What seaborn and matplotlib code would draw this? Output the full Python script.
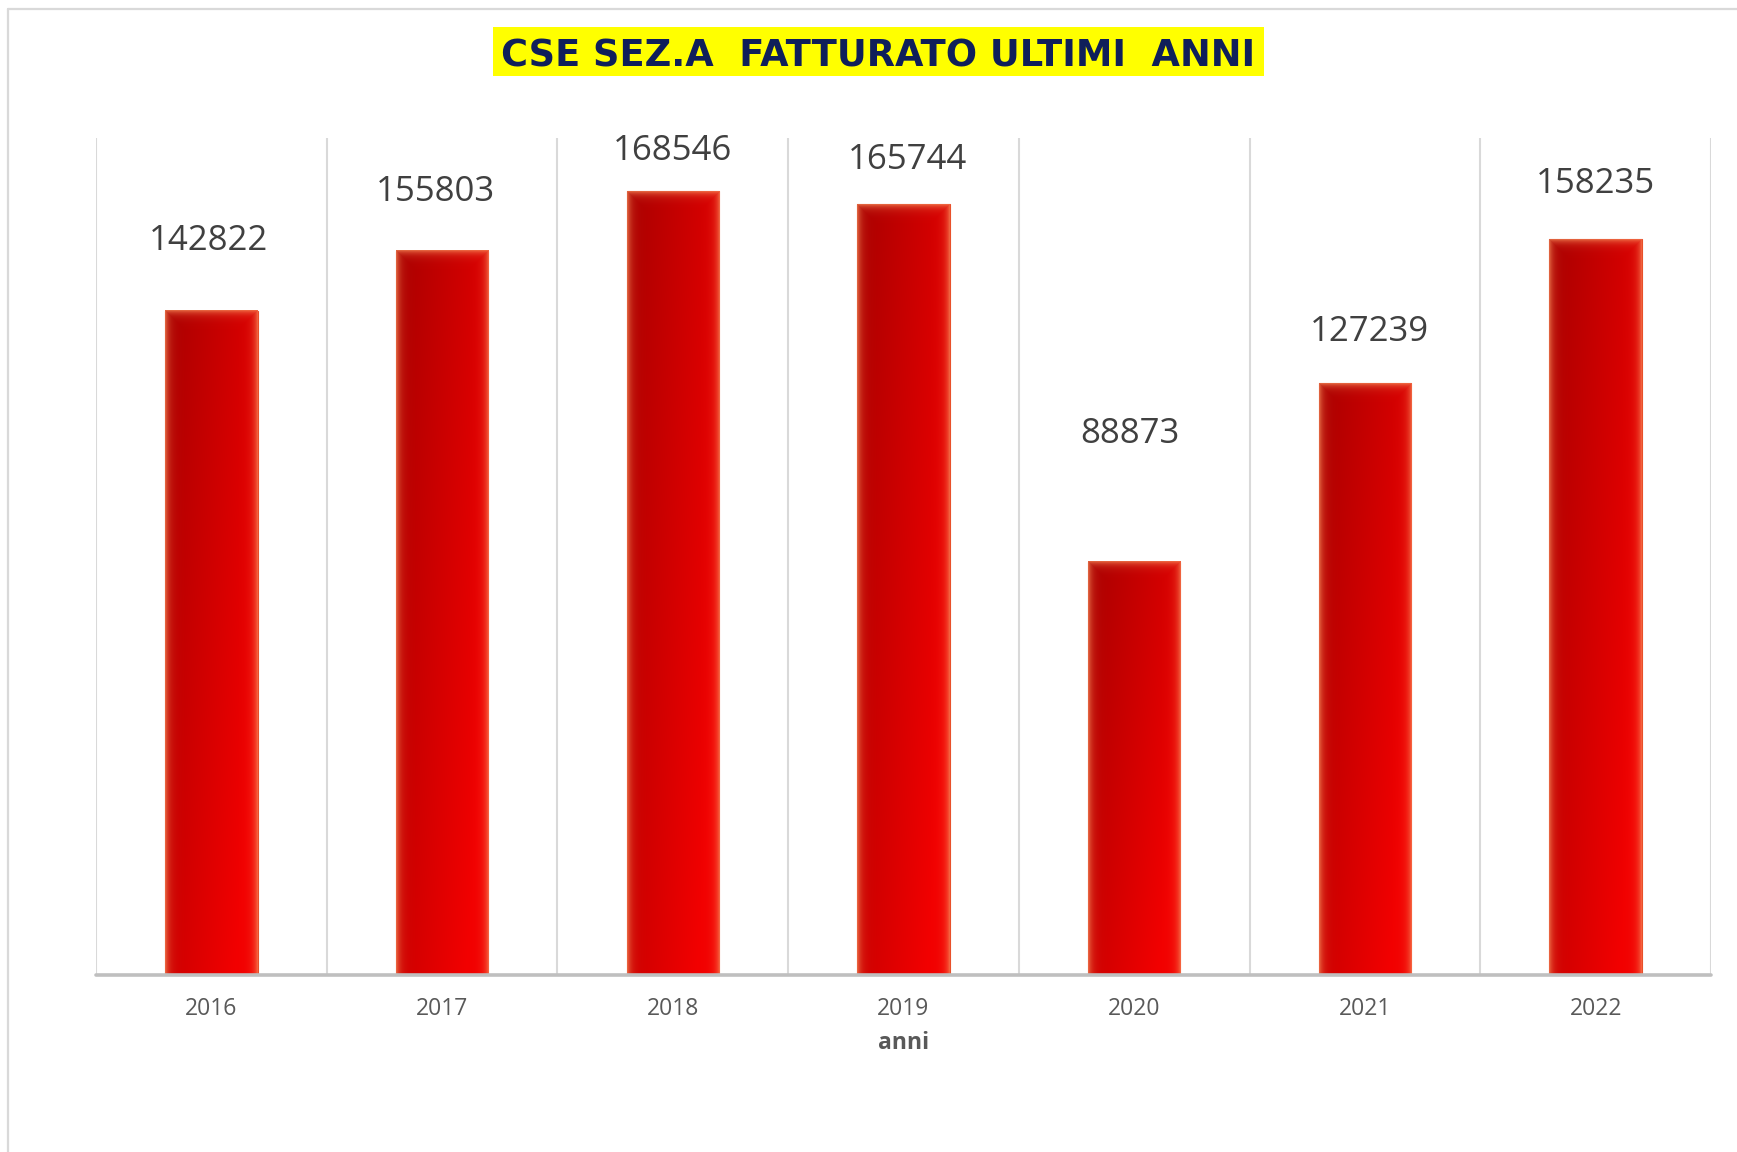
import numpy as np
import pandas as pd
import matplotlib
matplotlib.use("Agg")
import matplotlib.pyplot as plt
from matplotlib.lines import Line2D
from matplotlib.patches import Rectangle
import seaborn as sns

# ── Dati ────────────────────────────────────────────────
anni = ["2016", "2017", "2018", "2019", "2020", "2021", "2022"]
fatturato = [142822, 155803, 168546, 165744, 88873, 127239, 158235]
titolo = "CSE SEZ.A  FATTURATO ULTIMI  ANNI"
asse_x = "anni"

# spostamento delle etichette (pixel) rispetto alla cima della barra
label_dx = [-3, -7, 0, 4, -4, 4, 0]
label_dy = [70, 59, 40, 44, 128, 51, 55]

df = pd.DataFrame({"anno": anni, "valore": fatturato})

sns.set_theme(style="white")
plt.rcParams["font.family"] = ["Open Sans", "DejaVu Sans"]

W, H = 1737, 1152
fig = plt.figure(figsize=(W / 100, H / 100), dpi=100)
ax = fig.add_axes([96 / W, 1 - 975 / H, (1711 - 96) / W, (975 - 138) / H])

sns.barplot(data=df, x="anno", y="valore", width=0.4, color="#d00000",
            edgecolor="#e8502a", linewidth=0.8, ax=ax, zorder=2)

YMAX = 180000
ax.set_xlim(-0.5, len(anni) - 0.5)
ax.set_ylim(0, YMAX)

# gradiente rosso sulle barre (scuro in alto a sinistra, chiaro in basso a destra)
for p in ax.patches:
    x0, w, h = p.get_x(), p.get_width(), p.get_height()
    cols = 93
    rows = max(int(h / YMAX * 837), 10)
    t = np.linspace(0, 1, cols)[None, :]
    s = np.linspace(0, 1, rows)[:, None]
    r = np.clip(0.66 + 0.20 * t + 0.14 * s, 0, 0.95)
    img = np.zeros((rows, cols, 3))
    img[..., 0] = r
    # alone arancio sui bordi
    xi = np.arange(cols)[None, :]
    yi = np.arange(rows)[:, None]
    d = np.minimum(np.minimum(xi, cols - 1 - xi), yi).astype(float)
    glow = 0.7 * np.exp(-d / 4.0)
    orange = np.array([0.97, 0.55, 0.35])
    img = img * (1 - glow[..., None]) + orange * glow[..., None]
    ax.imshow(img, extent=(x0, x0 + w, 0, h), aspect="auto",
              interpolation="bilinear", zorder=3)

ax.set_xlim(-0.5, len(anni) - 0.5)
ax.set_ylim(0, YMAX)

# griglia verticale tra le categorie
for xv in np.arange(-0.5, len(anni), 1.0):
    ax.axvline(xv, color="#d9d9d9", lw=1.5, zorder=1)
ax.axhline(0, color="#bfbfbf", lw=2.6, zorder=4, clip_on=False)

for sp in ax.spines.values():
    sp.set_visible(False)
ax.set_yticks([])
ax.set_ylabel("")
ax.tick_params(axis="x", length=0, pad=16, labelsize=16.5, labelcolor="#595959")
ax.set_xlabel(asse_x, fontsize=16.5, fontweight="bold", color="#595959", labelpad=7)

for i, v in enumerate(fatturato):
    ax.annotate(str(v), xy=(i, v), xytext=(label_dx[i], label_dy[i]),
                textcoords="offset pixels", ha="center", va="center",
                fontsize=25, color="#404040")

# titolo con fondo giallo
fig.add_artist(Rectangle((493 / W, 1 - 76 / H), (1264 - 493) / W, 49 / H,
                         transform=fig.transFigure, fc="#ffff00", ec="none"))
fig.text(878 / W, 1 - 52 / H, titolo, ha="center", va="center_baseline",
         fontsize=26.5, fontweight="bold", color="#0f1f5a",
         family=["DejaVu Sans"])

# bordo del grafico (solo alto e sinistra visibili)
fig.add_artist(Line2D([8 / W, 1], [1 - 9 / H, 1 - 9 / H],
                      transform=fig.transFigure, color="#d9d9d9", lw=1.6))
fig.add_artist(Line2D([8 / W, 8 / W], [0, 1 - 9 / H],
                      transform=fig.transFigure, color="#d9d9d9", lw=1.6))

plt.savefig("out.png", dpi=100)
plt.close()
